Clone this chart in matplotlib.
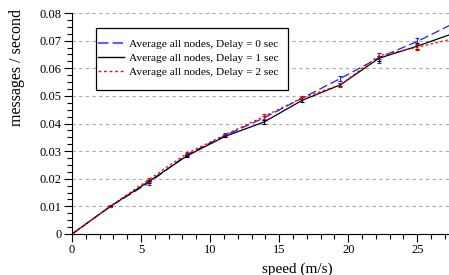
import numpy as np
import matplotlib
matplotlib.use('Agg')
import matplotlib.pyplot as plt
from matplotlib.ticker import MultipleLocator
from matplotlib.lines import Line2D
from matplotlib.patches import Rectangle

plt.rcParams['font.family'] = ['Liberation Serif', 'DejaVu Serif']

# Данные (скорость в м/с)
speed = [0, 2.78, 5.56, 8.33, 11.11, 13.89, 16.67, 19.44, 22.22, 25.0, 27.78]

delay0 = [0, 0.0100, 0.0185, 0.0287, 0.0357, 0.0420, 0.0492, 0.0563, 0.0638, 0.0697, 0.0766]
delay1 = [0, 0.0100, 0.0190, 0.0283, 0.0354, 0.0405, 0.0484, 0.0540, 0.0636, 0.0680, 0.0729]
delay2 = [0, 0.0101, 0.0197, 0.0292, 0.0360, 0.0425, 0.0493, 0.0540, 0.0645, 0.0676, 0.0709]

err0 = [0, 0.0003, 0.0006, 0.0005, 0.0005, 0.0007, 0.0005, 0.0009, 0.0019, 0.0014, 0.0010]
err1 = [0, 0.0003, 0.0005, 0.0005, 0.0004, 0.0006, 0.0005, 0.0006, 0.0010, 0.0010, 0.0010]
err2 = [0, 0.0004, 0.0007, 0.0006, 0.0005, 0.0008, 0.0006, 0.0008, 0.0012, 0.0010, 0.0010]

labels = ['Average all nodes, Delay = 0 sec',
          'Average all nodes, Delay = 1 sec',
          'Average all nodes, Delay = 2 sec']

fig = plt.figure(figsize=(4.49, 2.75), dpi=100)
ax = fig.add_axes([72 / 449, 41 / 275, 1 - 72 / 449, 221 / 275])

styles = [
    dict(color='#2020ff', linestyle=(0, (7, 3))),
    dict(color='black', linestyle='-'),
    dict(color='red', linestyle=(0, (2, 2))),
]
for y, e, st in zip([delay0, delay1, delay2], [err0, err1, err2], styles):
    ax.errorbar(speed, y, yerr=e, linewidth=0.9, capsize=1.5, elinewidth=0.8,
                capthick=0.8, **st)

ax.set_xlim(0, 27.3)
ax.set_ylim(0, 0.08)
ax.xaxis.set_major_locator(MultipleLocator(5))
ax.xaxis.set_minor_locator(MultipleLocator(1))
ax.yaxis.set_minor_locator(MultipleLocator(0.0025))
ax.set_yticks(np.arange(0, 0.081, 0.01))
ax.set_yticklabels(['0'] + ['%.2f' % v for v in np.arange(0.01, 0.081, 0.01)])
ax.tick_params(which='major', length=6, width=0.8, labelsize=9, direction='out', pad=1.5)
ax.tick_params(which='minor', length=3.5, width=0.8, direction='out')

ax.spines['top'].set_visible(False)
ax.spines['right'].set_visible(False)
ax.yaxis.grid(True, color='#aaaaaa', linestyle=(0, (3, 3)), linewidth=0.8)
ax.set_axisbelow(True)

# Легенда: рамка отдельно
ax.add_patch(Rectangle((24 / 377, 144 / 221), 192 / 377, 62 / 221,
                       transform=ax.transAxes, facecolor='white', edgecolor='black',
                       linewidth=0.9, zorder=5))
handles = [
    Line2D([], [], color='#6060ff', linestyle=(0, (5, 2)), linewidth=1.5),
    Line2D([], [], color='black', linestyle='-', linewidth=1.0),
    Line2D([], [], color='red', linestyle=(0, (2, 2)), linewidth=1.0),
]
leg = ax.legend(handles, labels, loc='upper left', bbox_to_anchor=(26 / 377, 1 - 26 / 221),
                borderaxespad=0, borderpad=0, fontsize=8.2, frameon=False,
                handlelength=2.3, labelspacing=0.37, handletextpad=0.4)
leg.set_zorder(6)

fig.text(297 / 449, 1 - 273 / 275, 'speed (m/s)', ha='center', va='baseline', fontsize=11)
fig.text(17 / 449, 1 - 68 / 275, 'messages / second', ha='center', va='center',
         rotation=90, fontsize=11.5)

plt.savefig('out.png', dpi=100)
